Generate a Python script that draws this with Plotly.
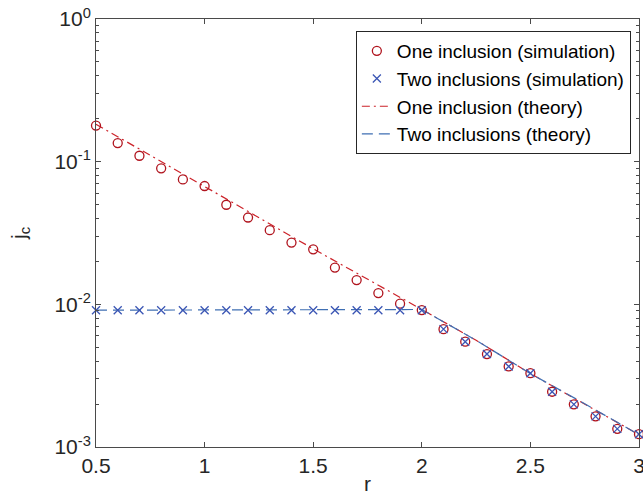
import plotly.graph_objects as go

# Data
r_sim = [0.5, 0.6, 0.7, 0.8, 0.9, 1.0, 1.1, 1.2, 1.3, 1.4, 1.5, 1.6, 1.7, 1.8, 1.9,
         2.0, 2.1, 2.2, 2.3, 2.4, 2.5, 2.6, 2.7, 2.8, 2.9, 3.0]
one_sim = [0.179, 0.135, 0.110, 0.0898, 0.0751, 0.0675, 0.0499, 0.0406, 0.0331, 0.0271,
           0.0243, 0.0181, 0.0148, 0.0120, 0.0101, 0.00912, 0.0067, 0.00547, 0.00448,
           0.00367, 0.00329, 0.00244, 0.00199, 0.00164, 0.00134, 0.00123]
two_sim = [0.00908, 0.00908, 0.00908, 0.00908, 0.00908, 0.00908, 0.00908, 0.00908,
           0.00908, 0.00908, 0.00908, 0.00908, 0.00908, 0.00908, 0.00908, 0.00910,
           0.0067, 0.00547, 0.00448, 0.00367, 0.00329, 0.00244, 0.00199, 0.00164,
           0.00134, 0.00123]

r_theory = [0.5, 1.0, 1.5, 2.0, 2.25, 2.5, 2.75, 3.0]
one_theory = [0.183, 0.0665, 0.0245, 0.0092, 0.0056, 0.00327, 0.00201, 0.00122]
two_theory = [0.0091, 0.0091, 0.0091, 0.0092, 0.0056, 0.00327, 0.00201, 0.00122]

y_tickvals = [1e-3, 1e-2, 1e-1, 1]
y_ticktext = ["10<sup>-3</sup>", "10<sup>-2</sup>", "10<sup>-1</sup>", "10<sup>0</sup>"]
y_minor = [k * 10.0 ** e for e in range(-3, 0) for k in range(2, 10)]
x_tickvals = [0.5, 1, 1.5, 2, 2.5, 3]
x_ticktext = ["0.5", "1", "1.5", "2", "2.5", "3"]

RED_M = "#B0141E"
RED_L = "#CC2229"
BLUE_M = "#3A55B4"
BLUE_L = "#3F6FB3"
AX = "#4a4a4a"
TXT = "#262626"
FONT = "Liberation Sans, Arial, Helvetica, sans-serif"

fig = go.Figure()
fig.add_trace(go.Scatter(x=r_theory, y=one_theory, mode="lines", name="One inclusion (theory)",
                         line=dict(color=RED_L, width=1.2, dash="8px,4px,2px,4px"),
                         legendrank=3, cliponaxis=False))
fig.add_trace(go.Scatter(x=r_theory, y=two_theory, mode="lines", name="Two inclusions (theory)",
                         line=dict(color=BLUE_L, width=1.2, dash="11px,6px"),
                         legendrank=4, cliponaxis=False))
fig.add_trace(go.Scatter(x=r_sim, y=one_sim, mode="markers", name="One inclusion (simulation)",
                         marker=dict(symbol="circle-open", size=9, color=RED_M,
                                     line=dict(width=1.3, color=RED_M)),
                         legendrank=1, cliponaxis=False))
fig.add_trace(go.Scatter(x=r_sim, y=two_sim, mode="markers", name="Two inclusions (simulation)",
                         marker=dict(symbol="x-thin-open", size=8, color=BLUE_M,
                                     line=dict(width=1.3, color=BLUE_M)),
                         legendrank=2, cliponaxis=False))

fig.update_layout(
    width=643, height=500,
    margin=dict(l=96, r=4, t=19, b=53),
    plot_bgcolor="white", paper_bgcolor="white",
    font=dict(family=FONT, size=21, color=TXT),
    showlegend=True,
    legend=dict(x=0.985, y=0.972, xanchor="right", yanchor="top",
                bgcolor="white", bordercolor=TXT, borderwidth=1,
                font=dict(size=19, color="#000000"), tracegroupgap=0,
                itemwidth=30, traceorder="normal"),
)
fig.update_xaxes(
    range=[0.5, 3], tickvals=x_tickvals, ticktext=x_ticktext,
    ticks="inside", ticklen=5, tickcolor=AX, tickwidth=1,
    showline=True, linecolor=AX, linewidth=1, mirror="ticks",
    showgrid=False, zeroline=False, ticklabeloverflow="allow", automargin=False,
    title=dict(text="r", standoff=0, font=dict(size=21)),
    tickfont=dict(size=21, color=TXT),
)
fig.update_yaxes(
    type="log", range=[-3, 0], tickvals=y_tickvals, ticktext=y_ticktext,
    ticks="inside", ticklen=5, tickcolor=AX, tickwidth=1,
    minor=dict(tickmode="array", tickvals=y_minor, ticks="inside", ticklen=3,
               tickcolor=AX, showgrid=False),
    showline=True, linecolor=AX, linewidth=1, mirror="ticks",
    showgrid=False, zeroline=False, ticklabeloverflow="allow", automargin=False,
    title=dict(text="j<sub>c</sub>", standoff=22, font=dict(size=21)),
    tickfont=dict(size=21, color=TXT),
)

# Remove the browser's default page margin so the 643x500 figure fills the window exactly.
fig.write_html(
    "out.html",
    config={"displayModeBar": False},
    post_script="document.body.style.margin='0';document.body.style.overflow='hidden';",
)
